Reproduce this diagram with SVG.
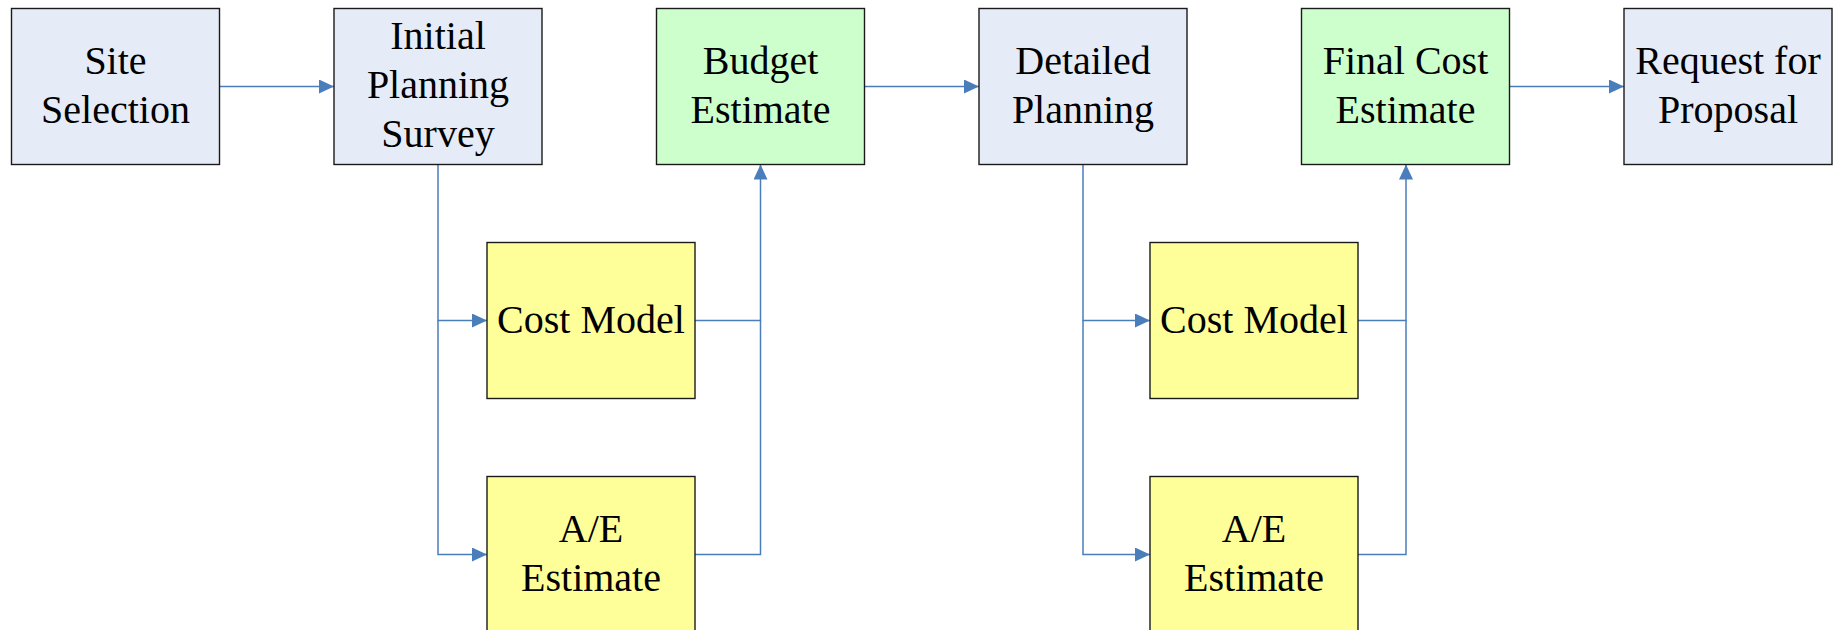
<svg xmlns="http://www.w3.org/2000/svg" width="1839" height="630" viewBox="0 0 1839 630">
<style>
.box{stroke:#1a1a1a;stroke-width:1.4}
.blue{fill:#E6ECF7}
.green{fill:#CCFFCC}
.yellow{fill:#FFFF99}
.lbl{font-family:"Liberation Serif","Times New Roman",serif;font-size:40px;fill:#000;text-anchor:middle}
.con{fill:none;stroke:#4A7EBB;stroke-width:1.5}
</style>
<defs>
<marker id="arr" markerUnits="userSpaceOnUse" markerWidth="16" markerHeight="15" refX="15" refY="7" orient="auto">
<path d="M0,0 L15,7 L0,14 z" fill="#4A7EBB"/>
</marker>
</defs>
<rect width="1839" height="630" fill="#ffffff"/>
<g id="connectors">
<path class="con" d="M219.5,86.5 H334" marker-end="url(#arr)"/>
<path class="con" d="M438,164.5 V320.5 H487" marker-end="url(#arr)"/>
<path class="con" d="M438,320.5 V554.5 H487" marker-end="url(#arr)"/>
<path class="con" d="M695,320.5 H760.5 V164.5" marker-end="url(#arr)"/>
<path class="con" d="M695,554.5 H760.5 V320.5"/>
<path class="con" d="M864.5,86.5 H979" marker-end="url(#arr)"/>
<path class="con" d="M1083,164.5 V320.5 H1150" marker-end="url(#arr)"/>
<path class="con" d="M1083,320.5 V554.5 H1150" marker-end="url(#arr)"/>
<path class="con" d="M1358,320.5 H1406 V164.5" marker-end="url(#arr)"/>
<path class="con" d="M1358,554.5 H1406 V320.5"/>
<path class="con" d="M1509.5,86.5 H1624" marker-end="url(#arr)"/>
</g>
<g id="site-selection">
<rect class="box blue" x="11.5" y="8.5" width="208" height="156"/>
<text class="lbl" x="115.5" y="73.5">Site</text>
<text class="lbl" x="115.5" y="122.5">Selection</text>
</g>
<g id="initial-planning-survey">
<rect class="box blue" x="334" y="8.5" width="208" height="156"/>
<text class="lbl" x="438" y="49">Initial</text>
<text class="lbl" x="438" y="98">Planning</text>
<text class="lbl" x="438" y="147">Survey</text>
</g>
<g id="budget-estimate">
<rect class="box green" x="656.5" y="8.5" width="208" height="156"/>
<text class="lbl" x="760.5" y="73.5">Budget</text>
<text class="lbl" x="760.5" y="122.5">Estimate</text>
</g>
<g id="detailed-planning">
<rect class="box blue" x="979" y="8.5" width="208" height="156"/>
<text class="lbl" x="1083" y="73.5">Detailed</text>
<text class="lbl" x="1083" y="122.5">Planning</text>
</g>
<g id="final-cost-estimate">
<rect class="box green" x="1301.5" y="8.5" width="208" height="156"/>
<text class="lbl" x="1405.5" y="73.5">Final Cost</text>
<text class="lbl" x="1405.5" y="122.5">Estimate</text>
</g>
<g id="request-for-proposal">
<rect class="box blue" x="1624" y="8.5" width="208" height="156"/>
<text class="lbl" x="1728" y="73.5">Request for</text>
<text class="lbl" x="1728" y="122.5">Proposal</text>
</g>
<g id="cost-model-1">
<rect class="box yellow" x="487" y="242.5" width="208" height="156"/>
<text class="lbl" x="591" y="332.5">Cost Model</text>
</g>
<g id="ae-estimate-1">
<rect class="box yellow" x="487" y="476.5" width="208" height="156"/>
<text class="lbl" x="591" y="541.5">A/E</text>
<text class="lbl" x="591" y="590.5">Estimate</text>
</g>
<g id="cost-model-2">
<rect class="box yellow" x="1150" y="242.5" width="208" height="156"/>
<text class="lbl" x="1254" y="332.5">Cost Model</text>
</g>
<g id="ae-estimate-2">
<rect class="box yellow" x="1150" y="476.5" width="208" height="156"/>
<text class="lbl" x="1254" y="541.5">A/E</text>
<text class="lbl" x="1254" y="590.5">Estimate</text>
</g>
</svg>
